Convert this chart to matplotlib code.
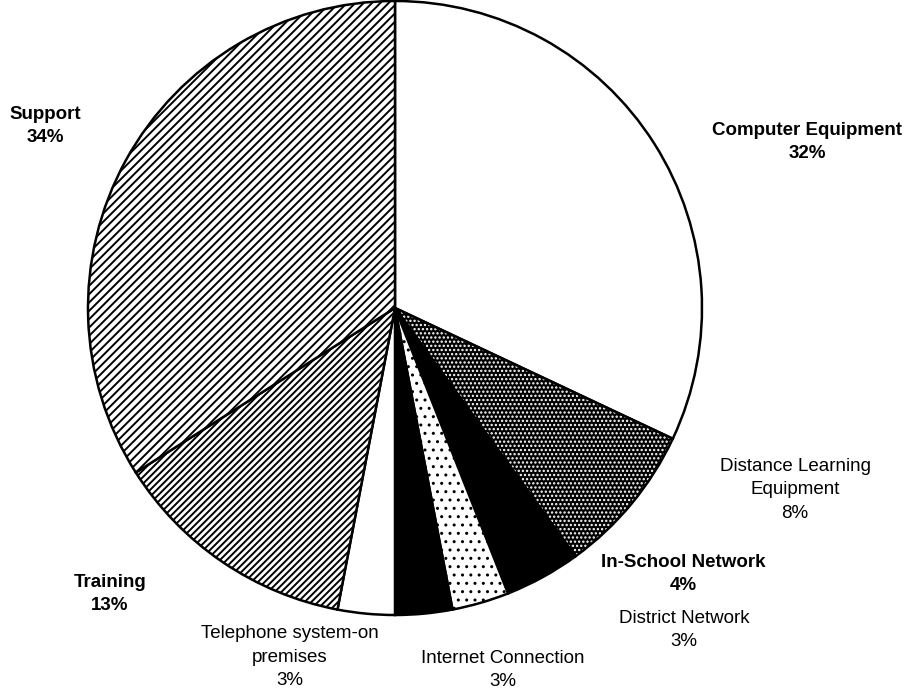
import matplotlib
matplotlib.use("Agg")
import matplotlib.pyplot as plt
from matplotlib.patches import Wedge

# slice data, clockwise from 12 o'clock
categories = ["Computer Equipment", "Distance Learning\nEquipment", "In-School Network",
              "District Network", "Internet Connection", "Telephone system-on\npremises",
              "Training", "Support"]
shares = [32, 8, 4, 3, 3, 3, 13, 34]

# label centre points in pixels of the original image, and weight
label_px = [(807, 142), (795, 490), (683, 574), (684, 630),
            (503, 670), (290, 657), (110, 594), (45, 126)]
label_bold = [True, False, True, False, False, False, True, True]

plt.rcParams['font.family'] = ['Liberation Sans', 'DejaVu Sans']
plt.rcParams['hatch.linewidth'] = 1.0

W, H = 905, 694
cx, cy, R = 395, 308, 307

fig = plt.figure(figsize=(W / 100, H / 100), dpi=100)
ax = fig.add_axes([0, 0, 1, 1])

wedges, _ = ax.pie(shares, startangle=90, counterclock=False, radius=1.0,
                   wedgeprops=dict(linewidth=1.8, edgecolor='black'))
ax.set_xlim(-cx / R, (W - cx) / R)
ax.set_ylim(-(H - cy) / R, cy / R)
ax.set_aspect('equal')
ax.axis('off')

# facecolor, hatch, hatch colour, hatch linewidth
styles = [
    ('white', None, 'black', 1.0),
    ('black', '....', 'white', 1.1),
    ('black', None, 'black', 1.0),
    ('white', '..', 'black', 1.0),
    ('black', None, 'black', 1.0),
    ('white', None, 'black', 1.0),
    ('white', '/////', 'black', 1.4),
    ('white', '////', 'black', 1.4),
]
for w, (fc, hatch, hc, hlw) in zip(wedges, styles):
    w.set_facecolor(fc)
    if hatch:
        w.set_hatch(hatch)
        if hasattr(w, 'set_hatch_linewidth'):
            w.set_hatch_linewidth(hlw)
    if hc != 'black':
        w.set_edgecolor(hc)
        w.set_linewidth(0)
        # black outline on top of the white-dotted wedge
        ax.add_patch(Wedge(w.center, w.r, w.theta1, w.theta2, facecolor='none',
                           edgecolor='black', linewidth=1.8))

for name, pct, (px, py), bold in zip(categories, shares, label_px, label_bold):
    x = (px - cx) / R
    y = (cy - py) / R
    ax.text(x, y, f"{name}\n{pct}%", ha='center', va='center', fontsize=13.5,
            fontweight='bold' if bold else 'normal', linespacing=1.5)

fig.savefig("out.png", dpi=100)
